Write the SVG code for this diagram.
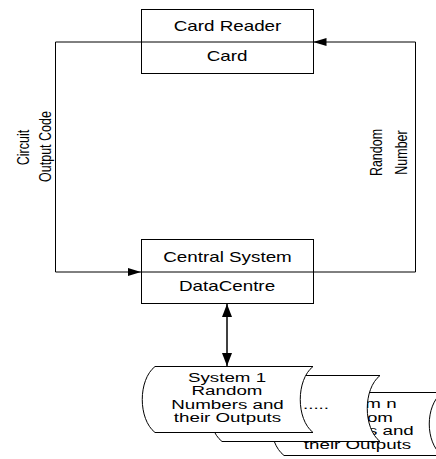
<svg xmlns="http://www.w3.org/2000/svg" width="436" height="459" viewBox="0 0 436 459">
<style>
.box{fill:#fff;stroke:#000;stroke-width:1}
.div{stroke:#000;stroke-width:1;fill:none}
.conn{stroke:#000;stroke-width:1;fill:none}
.t{font-family:"Liberation Sans",Arial,sans-serif;font-size:14.7px;fill:#000;text-anchor:middle}
.s{font-family:"Liberation Sans",Arial,sans-serif;font-size:13.5px;fill:#000;text-anchor:middle}
.r{font-family:"Liberation Sans",Arial,sans-serif;font-size:12.5px;fill:#000;text-anchor:middle}
.store{fill:#fff;stroke:#000;stroke-width:1}
</style>
<defs>
<marker id="ah" markerWidth="13" markerHeight="8" refX="13" refY="4" orient="auto" markerUnits="userSpaceOnUse">
<path d="M0,0 L13,4 L0,8 Z" fill="#000"/>
</marker>
<marker id="ah2" markerWidth="13" markerHeight="10" refX="13" refY="5" orient="auto-start-reverse" markerUnits="userSpaceOnUse">
<path d="M0,0 L13,5 L0,10 Z" fill="#000"/>
</marker>
</defs>

<g id="storage-n">
<path class="store" d="M284,392.5 L442,392.5 C425,406 425,442 442,455.5 L284,455.5 C267,442 267,406 284,392.5 Z"/>
<text class="s" transform="translate(357.5,408) scale(1.39,1)">System n</text>
<text class="s" transform="translate(357.5,421.5) scale(1.39,1)">Random</text>
<text class="s" transform="translate(357.5,435) scale(1.39,1)">Numbers and</text>
<text class="s" transform="translate(357.5,448.5) scale(1.39,1)">their Outputs</text>
</g>

<g id="storage-2">
<path class="store" d="M222,375.5 L380,375.5 C363,389 363,428 380,441.5 L222,441.5 C205,428 205,389 222,375.5 Z"/>
<text class="s" transform="translate(316,409) scale(1.39,1)">.....</text>
</g>

<g id="storage-1">
<path class="store" d="M155,366.5 L313,366.5 C296,380 296,419 313,432.5 L155,432.5 C138,419 138,380 155,366.5 Z"/>
<text class="s" transform="translate(227,381.5) scale(1.39,1)">System 1</text>
<text class="s" transform="translate(227,395) scale(1.39,1)">Random</text>
<text class="s" transform="translate(227.5,408.5) scale(1.39,1)">Numbers and</text>
<text class="s" transform="translate(227.5,422) scale(1.39,1)">their Outputs</text>
</g>

<g id="card-reader">
<rect class="box" x="141.5" y="9.5" width="172" height="64"/>
<line class="div" x1="141.5" y1="42" x2="313.5" y2="42"/>
<text class="t" transform="translate(227.5,31) scale(1.28,1)">Card Reader</text>
<text class="t" transform="translate(227,61) scale(1.28,1)">Card</text>
</g>

<g id="central-system">
<rect class="box" x="141.5" y="239.5" width="172" height="64"/>
<line class="div" x1="141.5" y1="272" x2="313.5" y2="272"/>
<text class="t" transform="translate(227.5,261.5) scale(1.28,1)">Central System</text>
<text class="t" transform="translate(227,291) scale(1.28,1)">DataCentre</text>
</g>

<g id="connectors">
<path class="conn" d="M141.5,42 L55.5,42 L55.5,272 L141,272" marker-end="url(#ah)"/>
<path class="conn" d="M313.5,272 L415.5,272 L415.5,42 L313.5,42" marker-end="url(#ah)"/>
<line x1="227" y1="304" x2="227" y2="366" stroke="#000" stroke-width="1.5" marker-start="url(#ah2)" marker-end="url(#ah2)"/>
<text class="r" transform="translate(29,147.5) scale(1.25,1) rotate(-90)">Circuit</text>
<text class="r" transform="translate(51,146.5) scale(1.25,1) rotate(-90)">Output Code</text>
<text class="r" transform="translate(382,152.5) scale(1.25,1) rotate(-90)">Random</text>
<text class="r" transform="translate(407,152.5) scale(1.25,1) rotate(-90)">Number</text>
</g>
</svg>
